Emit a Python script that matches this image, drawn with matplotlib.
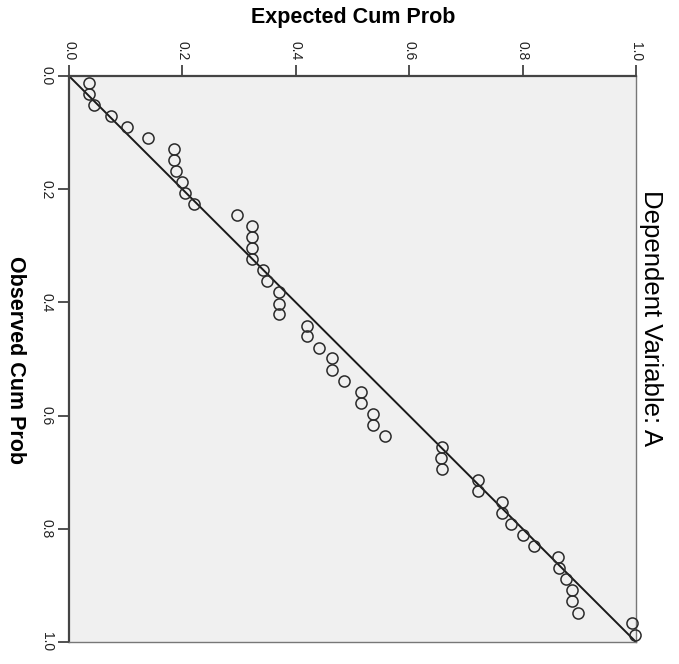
import matplotlib.pyplot as plt

plt.rcParams['font.family'] = ['Liberation Sans', 'DejaVu Sans']

# P-P plot of regression residuals, drawn rotated (expected on top, observed on left)
observed = [0.012, 0.031, 0.051, 0.070, 0.090, 0.109, 0.129, 0.148, 0.168, 0.187,
            0.207, 0.226, 0.246, 0.265, 0.285, 0.304, 0.324, 0.343, 0.363, 0.382,
            0.402, 0.421, 0.441, 0.460, 0.480, 0.499, 0.519, 0.538, 0.558, 0.577,
            0.597, 0.616, 0.636, 0.655, 0.675, 0.694, 0.714, 0.733, 0.753, 0.772,
            0.792, 0.811, 0.831, 0.850, 0.870, 0.889, 0.909, 0.928, 0.948, 0.967,
            0.988]
expected = [0.036, 0.035, 0.044, 0.074, 0.103, 0.139, 0.185, 0.185, 0.189, 0.200,
            0.204, 0.220, 0.297, 0.323, 0.323, 0.323, 0.323, 0.343, 0.349, 0.370,
            0.370, 0.370, 0.419, 0.419, 0.441, 0.464, 0.464, 0.485, 0.515, 0.515,
            0.537, 0.537, 0.558, 0.657, 0.656, 0.657, 0.722, 0.722, 0.764, 0.763,
            0.780, 0.801, 0.820, 0.862, 0.865, 0.876, 0.887, 0.887, 0.898, 0.993,
            0.998]
ticks = [0.0, 0.2, 0.4, 0.6, 0.8, 1.0]
tick_labels = ['0.0', '0.2', '0.4', '0.6', '0.8', '1.0']

fig = plt.figure(figsize=(6.79, 6.64), dpi=100)
ax = fig.add_axes([69/679, 1 - 642/664, 567/679, 566/664])
ax.set_facecolor('#f0f0f0')

ax.plot([0, 1], [0, 1], color='#1a1a1a', lw=1.4, zorder=2)
ax.plot(expected, observed, 'o', ms=8, mfc='none', mec='#2a2a2a', mew=1.1,
        clip_on=False, zorder=3)

ax.set_xlim(0, 1)
ax.set_ylim(1, 0)
ax.xaxis.set_ticks_position('top')
ax.set_xticks(ticks)
ax.set_xticklabels(tick_labels, rotation=-90)
ax.set_yticks(ticks)
ax.set_yticklabels(tick_labels, rotation=-90, va='center')
ax.tick_params(axis='both', length=8, width=1.2, color='#333333',
               labelsize=10, pad=3, labelcolor='#222222')

for side in ['top', 'left']:
    ax.spines[side].set_linewidth(1.6)
    ax.spines[side].set_color('#444444')
for side in ['bottom', 'right']:
    ax.spines[side].set_linewidth(1.0)
    ax.spines[side].set_color('#777777')

fig.text(353/679, 1 - 18/664, 'Expected Cum Prob', ha='center', va='center',
         fontsize=15.5, fontweight='bold')
fig.text(15/679, 1 - 360/664, 'Observed Cum Prob', ha='center', va='center',
         fontsize=15.5, fontweight='bold', rotation=-90)
fig.text(651/679, 1 - 318/664, 'Dependent Variable: A', ha='center', va='center',
         fontsize=18.5, rotation=-90)

fig.savefig('out.png', dpi=100)
